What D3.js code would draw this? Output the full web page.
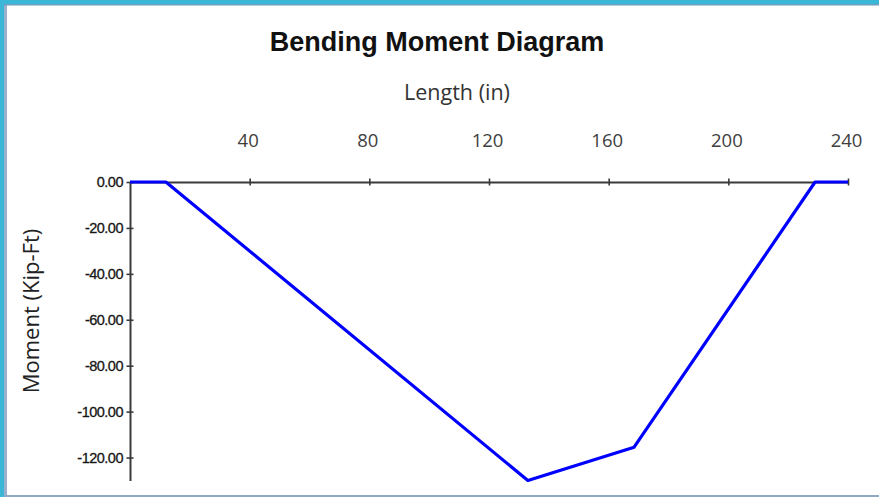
<!DOCTYPE html>
<html>
<head>
<meta charset="utf-8">
<script src="https://cdn.jsdelivr.net/npm/d3@7"></script>
<style>
  body { margin: 0; background: #fff; }
  svg { display: block; }
</style>
</head>
<body>
<svg id="chart"></svg>
<script>
// beam positions (in) and bending moment (kip-ft)
const lengthIn = [0, 12, 133, 168.5, 229, 240];
const momentKipFt = [0, 0, -130, -115.5, 0, 0];
const xTickValues = [40, 80, 120, 160, 200, 240];
const yTickValues = [0, -20, -40, -60, -80, -100, -120];

const width = 879, height = 497;

const svg = d3.select("#chart")
  .attr("width", width)
  .attr("height", height);

// window frame around the picture
svg.append("rect").attr("x", 0).attr("y", 0).attr("width", width).attr("height", 4).attr("fill", "#3ab6d6");
svg.append("rect").attr("x", 0).attr("y", 0).attr("width", 4).attr("height", height).attr("fill", "#3ab6d6");
svg.append("rect").attr("x", 4).attr("y", 4).attr("width", 3).attr("height", height - 6).attr("fill", "#9bb0cc");
svg.append("rect").attr("x", 4).attr("y", 4).attr("width", width - 4).attr("height", 1.5).attr("fill", "#6f9fc0");
svg.append("rect").attr("x", 4).attr("y", height - 2).attr("width", width - 4).attr("height", 2).attr("fill", "#8ea9c6");

var x = d3.scaleLinear()
  .domain([0, 240])
  .range([130, 848]);

var y = d3.scaleLinear()
  .domain([0, -130])
  .range([182, 480.5]);

// title and axis labels
svg.append("text")
  .attr("x", 437).attr("y", 51)
  .attr("text-anchor", "middle")
  .style("font-family", "'Liberation Sans', Arial, sans-serif")
  .style("font-weight", "bold")
  .style("font-size", "27px")
  .style("fill", "#111")
  .text("Bending Moment Diagram");

svg.append("text")
  .attr("x", 457).attr("y", 100)
  .attr("text-anchor", "middle")
  .style("font-family", "'Open Sans', sans-serif")
  .style("font-size", "21.5px")
  .style("fill", "#333")
  .text("Length (in)");

svg.append("text")
  .attr("transform", "translate(39,311) rotate(-90)")
  .attr("text-anchor", "middle")
  .style("font-family", "'Open Sans', sans-serif")
  .style("font-size", "22px")
  .style("fill", "#222")
  .text("Moment (Kip-Ft)");

// x axis along zero moment, labels on top
var xAxis = g => g
  .attr("transform", `translate(0,${y(0)})`)
  .call(d3.axisTop(x).tickValues(xTickValues).tickSizeOuter(0).tickPadding(0))
  .call(g => g.select(".domain").attr("stroke", "#3a3a3a").attr("stroke-width", 2))
  .call(g => g.selectAll(".tick line").attr("y1", -3.5).attr("y2", 3.5).attr("stroke", "#3a3a3a").attr("stroke-width", 1.6))
  .call(g => g.selectAll(".tick text")
      .attr("y", -35).attr("dx", -2)
      .style("font-family", "'Open Sans', sans-serif")
      .style("font-size", "18.5px")
      .style("fill", "#404040"));

// plain hyphen for negatives, as in the original
var fmt = d => d3.format(".2f")(d).replace("\u2212", "-");

var yAxis = g => g
  .attr("transform", `translate(${x(0)},0)`)
  .call(d3.axisLeft(y).tickValues(yTickValues).tickFormat(fmt).tickSizeOuter(0))
  .call(g => g.select(".domain").attr("stroke", "#3a3a3a").attr("stroke-width", 2))
  .call(g => g.selectAll(".tick line").attr("x1", -3.5).attr("x2", 3.5).attr("stroke", "#3a3a3a").attr("stroke-width", 1.6))
  .call(g => g.selectAll(".tick text")
      .attr("x", -7)
      .style("font-family", "'Liberation Sans', Arial, sans-serif")
      .style("font-size", "14.5px")
      .style("letter-spacing", "-0.5px")
      .style("stroke", "#222")
      .style("stroke-width", "0.3px")
      .style("fill", "#111"));

svg.append("g").call(xAxis);
svg.append("g").call(yAxis);

// moment line
var data = lengthIn.map((d, i) => ({ pos: d, m: momentKipFt[i] }));

var line = d3.line()
  .x(d => x(d.pos))
  .y(d => y(d.m));

svg.append("path")
  .datum(data)
  .attr("fill", "none")
  .attr("stroke", "#0000ff")
  .attr("stroke-width", 3.2)
  .attr("stroke-linejoin", "round")
  .attr("d", line);
</script>
</body>
</html>
